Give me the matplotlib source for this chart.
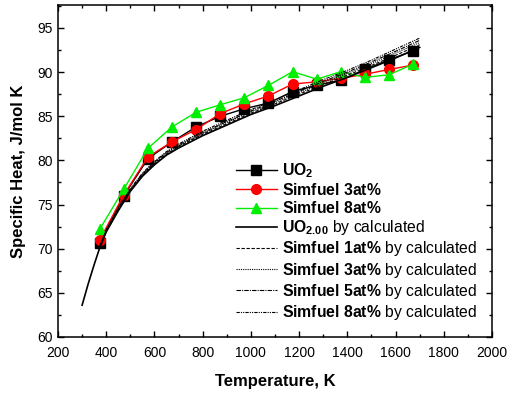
import matplotlib
matplotlib.use("Agg")
import matplotlib.pyplot as plt
from matplotlib.ticker import MultipleLocator

plt.rcParams['font.family'] = ['Liberation Sans', 'DejaVu Sans']
plt.rcParams['mathtext.fontset'] = 'custom'
plt.rcParams['mathtext.rm'] = 'Liberation Sans'
plt.rcParams['mathtext.it'] = 'Liberation Sans:italic'
plt.rcParams['mathtext.bf'] = 'Liberation Sans:bold'

# measured data
temp_meas = [373, 473, 573, 673, 773, 873, 973, 1073, 1173, 1273, 1373, 1473, 1573, 1673]
uo2 = [70.7, 76.0, 80.2, 82.1, 83.8, 85.0, 85.85, 86.5, 87.8, 88.5, 89.1, 90.3, 91.4, 92.4]
sim3 = [71.0, 76.1, 80.4, 82.1, 83.5, 85.3, 86.4, 87.3, 88.65, 88.9, 89.3, 89.75, 90.3, 90.8]
sim8 = [72.2, 76.76, 81.37, 83.8, 85.45, 86.3, 87.1, 88.5, 90.05, 89.2, 90.05, 89.4, 89.7, 90.9]

# calculated curves
temp_calc0 = [300, 325, 350, 373, 400, 450, 500, 550, 600, 650, 700, 800, 900, 1000,
              1100, 1200, 1300, 1400, 1500, 1600, 1700]
calc_uo2 = [63.6, 66.0, 68.2, 70.1, 71.9, 74.3, 76.5, 78.2, 79.5, 80.6, 81.4, 82.8, 84.0,
            85.2, 86.2, 87.3, 88.4, 89.4, 90.5, 91.6, 92.8]

temp_calc = [373, 400, 450, 500, 550, 600, 650, 700, 800, 900, 1000, 1100, 1200, 1300,
             1400, 1500, 1600, 1700]
calc_sim1 = [70.15, 71.95, 74.4, 76.6, 78.3, 79.6, 80.7, 81.55, 82.95, 84.15, 85.35, 86.4,
             87.5, 88.6, 89.65, 90.75, 91.9, 93.1]
calc_sim3 = [70.2, 72.0, 74.45, 76.65, 78.4, 79.7, 80.8, 81.65, 83.05, 84.3, 85.5, 86.55,
             87.65, 88.8, 89.85, 90.95, 92.15, 93.35]
calc_sim5 = [70.25, 72.05, 74.5, 76.7, 78.45, 79.8, 80.9, 81.75, 83.15, 84.4, 85.6, 86.7,
             87.8, 88.95, 90.0, 91.15, 92.35, 93.6]
calc_sim8 = [70.3, 72.1, 74.6, 76.8, 78.55, 79.9, 81.0, 81.85, 83.3, 84.55, 85.75, 86.85,
             88.0, 89.15, 90.2, 91.35, 92.6, 93.85]

fig = plt.figure(figsize=(5.08, 3.96), dpi=100)
ax = fig.add_axes([58/508, 1-337/396, (492-58)/508, (337-5)/396])

ax.plot(temp_meas, uo2, color='black', marker='s', ms=6.5, lw=1.0, mec='black',
        label=r'$\mathbf{UO_2}$')
ax.plot(temp_meas, sim3, color='red', marker='o', ms=7, lw=1.0, mec='red',
        label=r'$\mathbf{Simfuel\ 3at\%}$')
ax.plot(temp_meas, sim8, color='#00ee00', marker='^', ms=7.5, lw=1.0, mec='#00ee00',
        label=r'$\mathbf{Simfuel\ 8at\%}$')
ax.plot(temp_calc0, calc_uo2, color='black', lw=1.2, ls='-',
        label=r'$\mathbf{UO_{2.00}}$ by calculated')
ax.plot(temp_calc, calc_sim1, color='black', lw=0.8, ls=(0, (3, 1.5)),
        label=r'$\mathbf{Simfuel\ 1at\%}$ by calculated')
ax.plot(temp_calc, calc_sim3, color='black', lw=0.8, ls=(0, (1, 1)),
        label=r'$\mathbf{Simfuel\ 3at\%}$ by calculated')
ax.plot(temp_calc, calc_sim5, color='black', lw=0.8, ls=(0, (4, 1, 1, 1)),
        label=r'$\mathbf{Simfuel\ 5at\%}$ by calculated')
ax.plot(temp_calc, calc_sim8, color='black', lw=0.8, ls=(0, (3, 1, 1, 1, 1, 1)),
        label=r'$\mathbf{Simfuel\ 8at\%}$ by calculated')

ax.set_xlim(200, 2000)
ax.set_ylim(60, 97.6)
ax.xaxis.set_major_locator(MultipleLocator(200))
ax.xaxis.set_minor_locator(MultipleLocator(100))
ax.yaxis.set_major_locator(MultipleLocator(5))
ax.yaxis.set_minor_locator(MultipleLocator(2.5))
ax.tick_params(which='both', direction='in', top=True, right=True, labelsize=10, width=1.0)
ax.tick_params(which='major', length=4.5)
ax.tick_params(axis='x', which='major', pad=6.5)
ax.tick_params(axis='y', which='major', pad=4)
ax.tick_params(which='minor', length=2.5)
for s in ax.spines.values():
    s.set_linewidth(1.1)

ax.set_xlabel('Temperature, K', fontsize=12, fontweight='bold', labelpad=10)
ax.set_ylabel('Specific Heat, J/mol K', fontsize=12, fontweight='bold', labelpad=8)

ax.legend(loc='upper left', bbox_to_anchor=(236/508, 1-161/396),
          bbox_transform=fig.transFigure, frameon=False, fontsize=11.3,
          handlelength=2.6, handletextpad=0.35, labelspacing=0.14, borderpad=0,
          borderaxespad=0)

fig.savefig('out.png', dpi=100)
